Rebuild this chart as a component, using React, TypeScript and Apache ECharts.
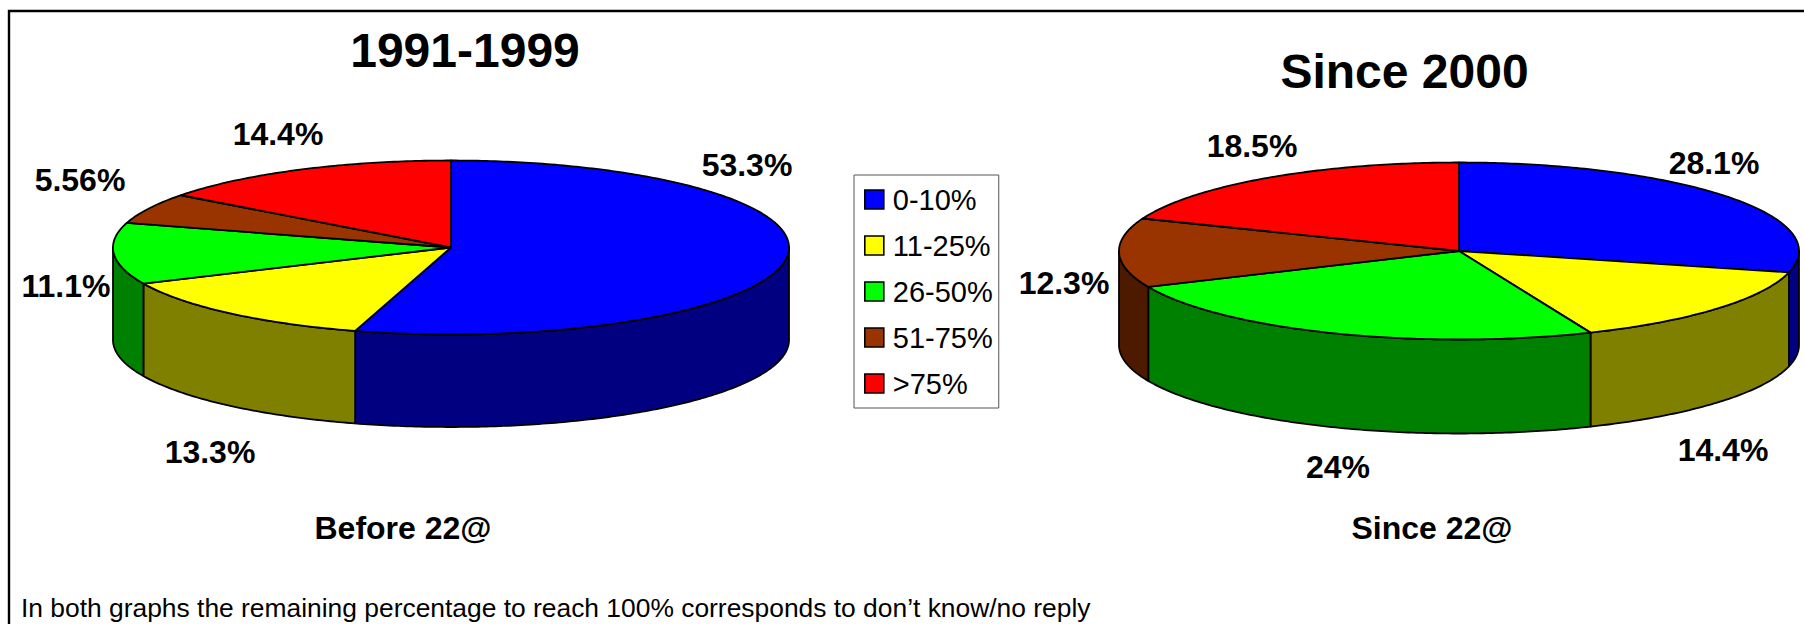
import React, { useEffect, useRef } from "react";
import * as echarts from "echarts";

const categories = ["0-10%", "11-25%", "26-50%", "51-75%", ">75%"];
const before22 = [53.3, 13.3, 11.1, 5.56, 14.4];
const since22 = [28.1, 14.4, 24, 12.3, 18.5];
const periodTitles = ["1991-1999", "Since 2000"];
const pieCaptions = ["Before 22@", "Since 22@"];
const footnote = "In both graphs the remaining percentage to reach 100% corresponds to don’t know/no reply";

const topColors = ["#0000ff", "#ffff00", "#00ff00", "#993300", "#ff0000"];
const wallColors = ["#000080", "#808000", "#008000", "#4d1a00", "#800000"];

const pieValues = [before22, since22];
const pieLayouts = [
  { cx: 451, cy: 247.5, rx: 338, ry: 87, depth: 92.5 },
  { cx: 1459, cy: 251, rx: 340, ry: 88.5, depth: 94 },
];
// label centres, [pie][slice]
const labelPositions = [
  [[747, 165], [210, 452], [66, 286], [80, 180], [278, 134]],
  [[1714, 162.5], [1723, 450], [1338, 467], [1064, 283], [1252, 146]],
];
const FONT = '"Liberation Sans", Arial, sans-serif';

function arcPoints(l: any, from: number, to: number, dy = 0) {
  const pts: number[][] = [];
  const n = Math.max(2, Math.ceil(Math.abs(to - from) / (Math.PI / 240)));
  for (let i = 0; i <= n; i++) {
    const t = from + ((to - from) * i) / n;
    pts.push([l.cx + l.rx * Math.sin(t), l.cy - l.ry * Math.cos(t) + dy]);
  }
  return pts;
}

function sliceRenderer(catIndex: number) {
  return (params: any, api: any) => {
    const pie = params.dataIndex;
    const l = pieLayouts[pie];
    const value = api.value(0);
    const vals = pieValues[pie];
    const total = vals.reduce((a, b) => a + b, 0);
    const before = vals.slice(0, catIndex).reduce((a, b) => a + b, 0);
    const start = (before / total) * Math.PI * 2;
    const end = ((before + value) / total) * Math.PI * 2;
    const children: any[] = [];
    const a = Math.max(start, Math.PI / 2);
    const b = Math.min(end, (Math.PI * 3) / 2);
    if (a < b) {
      children.push({
        type: "polygon",
        shape: { points: [...arcPoints(l, a, b), ...arcPoints(l, b, a, l.depth)] },
        style: { fill: wallColors[catIndex], stroke: "#000", lineWidth: 1.8, lineJoin: "round" },
      });
    }
    children.push({
      type: "polygon",
      shape: { points: [[l.cx, l.cy], ...arcPoints(l, start, end)] },
      style: { fill: topColors[catIndex], stroke: "#000", lineWidth: 1.8, lineJoin: "round" },
    });
    const [lx, ly] = labelPositions[pie][catIndex];
    children.push({
      type: "text",
      z2: 50,
      style: {
        text: `${value}%`,
        x: lx,
        y: ly,
        align: "center",
        verticalAlign: "middle",
        fill: "#000",
        font: `bold 32px ${FONT}`,
      },
    });
    return { type: "group", children };
  };
}

export default function App() {
  const ref = useRef<HTMLDivElement>(null);
  useEffect(() => {
    document.body.style.margin = "0";
    const chart = echarts.init(ref.current!, undefined, { renderer: "svg" });
    chart.setOption({
      animation: false,
      backgroundColor: "#ffffff",
      legend: {
        data: categories,
        orient: "vertical",
        left: 854,
        top: 175,
        padding: [10, 6, 10, 10],
        itemWidth: 19,
        itemHeight: 19,
        itemGap: 17,
        icon: "rect",
        selectedMode: false,
        borderColor: "#555",
        borderWidth: 1,
        itemStyle: { borderColor: "#000", borderWidth: 1.6 },
        textStyle: { fontFamily: FONT, fontSize: 29, color: "#000", padding: [0, 0, 0, 4] },
      },
      series: categories.map((name, i) => ({
        type: "custom",
        name,
        coordinateSystem: "none",
        itemStyle: { color: topColors[i] },
        data: [[before22[i]], [since22[i]]],
        renderItem: sliceRenderer(i),
      })),
      graphic: [
        {
          type: "polyline",
          shape: { points: [[9, 624], [9, 11], [1804, 11]] },
          style: { stroke: "#000", lineWidth: 2.4, fill: "none" },
        },
        ...periodTitles.map((t, i) => ({
          type: "text",
          style: {
            text: t,
            x: [465, 1404.5][i],
            y: [50, 71][i],
            align: "center",
            verticalAlign: "middle",
            fill: "#000",
            font: `bold 48px ${FONT}`,
          },
        })),
        ...pieCaptions.map((t, i) => ({
          type: "text",
          style: {
            text: t,
            x: [403, 1432][i],
            y: 528,
            align: "center",
            verticalAlign: "middle",
            fill: "#000",
            font: `bold 32px ${FONT}`,
          },
        })),
        {
          type: "text",
          style: {
            text: footnote,
            x: 21,
            y: 608,
            align: "left",
            verticalAlign: "middle",
            fill: "#000",
            font: `26.4px ${FONT}`,
          },
        },
      ],
    });
    return () => chart.dispose();
  }, []);
  return <div ref={ref} style={{ width: 1804, height: 624 }} />;
}
